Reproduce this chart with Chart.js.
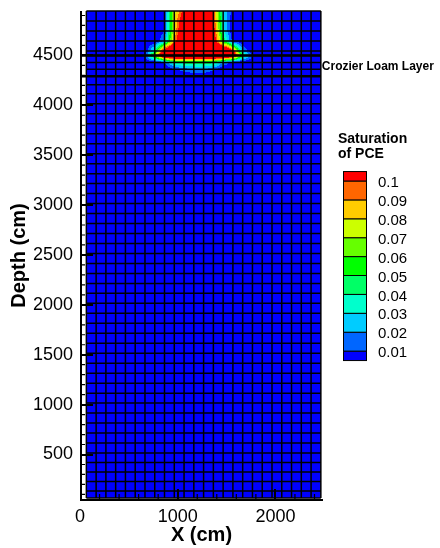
<!DOCTYPE html>
<html>
<head>
<meta charset="utf-8">
<script src="https://cdn.jsdelivr.net/npm/chart.js@4.4.1/dist/chart.umd.min.js"></script>
<style>
  body { margin: 0; background: #fff; }
  #wrap { width: 440px; height: 548px; }
</style>
</head>
<body>
<div id="wrap"><canvas id="sat" width="440" height="548"></canvas></div>
<script>
// mesh lines of the model (cm)
const xNodes = [65, 165, 265, 365, 465, 565, 665, 765, 865, 965, 1065, 1165, 1265,
  1365, 1465, 1565, 1665, 1765, 1865, 1965, 2065, 2165, 2265, 2365, 2465];
const yNodes = [65, 135, 230, 325, 420, 515, 615, 715, 815, 915, 1015, 1115, 1215,
  1315, 1415, 1515, 1615, 1715, 1815, 1915, 2015, 2115, 2215, 2315, 2415, 2515,
  2615, 2715, 2815, 2915, 3015, 3115, 3215, 3315, 3415, 3515, 3615, 3715, 3815,
  3915, 4015, 4115, 4205, 4290, 4360, 4430, 4500, 4545, 4645, 4745, 4845, 4945];

// PCE saturation at the nodes of the source zone (zero everywhere else)
const plumeX = [665, 765, 865, 965, 1065, 1165, 1265, 1365, 1465, 1565, 1665, 1765];
const plumeY = [4945, 4845, 4745, 4645, 4545, 4500, 4430, 4360, 4290];
const plumeSat = [
  [0, 0, 0.01, 0.075, 0.105, 0.15, 0.15, 0.098, 0.03, 0.005, 0, 0],
  [0, 0, 0.01, 0.078, 0.12, 0.15, 0.15, 0.105, 0.032, 0, 0, 0],
  [0, 0, 0.01, 0.08, 0.13, 0.15, 0.15, 0.11, 0.035, 0, 0, 0],
  [0, 0, 0.02, 0.09, 0.14, 0.15, 0.15, 0.12, 0.05, 0.005, 0, 0],
  [0, 0.04, 0.12, 0.15, 0.15, 0.15, 0.15, 0.15, 0.15, 0.105, 0.02, 0],
  [0.01, 0.07, 0.14, 0.15, 0.15, 0.15, 0.15, 0.15, 0.15, 0.13, 0.05, 0.01],
  [0, 0, 0.01, 0.04, 0.045, 0.045, 0.045, 0.045, 0.02, 0.005, 0, 0],
  [0, 0, 0, 0.008, 0.015, 0.02, 0.02, 0.012, 0, 0, 0, 0],
  [0, 0, 0, 0, 0, 0, 0, 0, 0, 0, 0, 0],
];

// Crozier loam layer boundaries (cm)
const loamLayer = [4500, 4290];

// contour levels and band colours (lowest band first)
const satLevels = [0.01, 0.02, 0.03, 0.04, 0.05, 0.06, 0.07, 0.08, 0.09, 0.1];
const levelColors = ["#0000ff", "#0066ff", "#00ccff", "#00ffcc", "#00ff66", "#00ff00",
  "#66ff00", "#ccff00", "#ffcc00", "#ff6600", "#ff0000"];

const xTicks = [0, 1000, 2000];
const yTicks = [500, 1000, 1500, 2000, 2500, 3000, 3500, 4000, 4500];

const nodes = [];
plumeY.forEach((yv, j) => plumeX.forEach((xv, i) => nodes.push({ x: xv, y: yv, v: plumeSat[j][i] })));

const FONT = "Liberation Sans";

function satColor(v) {
  let k = 0;
  while (k < satLevels.length && v >= satLevels[k]) k++;
  return levelColors[k];
}
const clamp01 = (t) => Math.max(0, Math.min(1, t));

const fieldPlugin = {
  id: "field",
  beforeDatasetsDraw(chart) {
    const { ctx, chartArea: area, scales: { x, y } } = chart;
    const sat = new Map();
    chart.data.datasets[0].data.forEach((n) => sat.set(n.x + "," + n.y, n.v));
    const nodeSat = (a, b) => sat.get(a + "," + b) || 0;

    const mL = x.getPixelForValue(xNodes[0]);
    const mR = x.getPixelForValue(xNodes[xNodes.length - 1]);
    const mT = y.getPixelForValue(yNodes[yNodes.length - 1]);
    const mB = y.getPixelForValue(yNodes[0]);

    ctx.save();
    ctx.fillStyle = levelColors[0];
    ctx.fillRect(mL, mT, mR - mL, mB - mT);

    // contour bands inside cells touched by the plume
    for (let i = 0; i < xNodes.length - 1; i++) {
      for (let j = 0; j < yNodes.length - 1; j++) {
        const x0 = xNodes[i], x1 = xNodes[i + 1], y0 = yNodes[j], y1 = yNodes[j + 1];
        const v00 = nodeSat(x0, y0), v10 = nodeSat(x1, y0);
        const v01 = nodeSat(x0, y1), v11 = nodeSat(x1, y1);
        if (!(v00 || v10 || v01 || v11)) continue;
        const L = Math.round(x.getPixelForValue(x0)), R = Math.round(x.getPixelForValue(x1));
        const T = Math.round(y.getPixelForValue(y1)), B = Math.round(y.getPixelForValue(y0));
        for (let py = T; py < B; py++) {
          const ty = clamp01((y.getValueForPixel(py + 0.5) - y0) / (y1 - y0));
          for (let px = L; px < R; px++) {
            const tx = clamp01((x.getValueForPixel(px + 0.5) - x0) / (x1 - x0));
            const v = v00 * (1 - tx) * (1 - ty) + v10 * tx * (1 - ty) + v01 * (1 - tx) * ty + v11 * tx * ty;
            ctx.fillStyle = satColor(v);
            ctx.fillRect(px, py, 1, 1);
          }
        }
      }
    }

    // mesh
    ctx.strokeStyle = "#000";
    ctx.lineWidth = 1.5;
    ctx.beginPath();
    xNodes.forEach((xv) => {
      const p = x.getPixelForValue(xv);
      ctx.moveTo(p, mT);
      ctx.lineTo(p, mB);
    });
    yNodes.forEach((yv) => {
      const p = y.getPixelForValue(yv);
      ctx.moveTo(mL, p);
      ctx.lineTo(mR, p);
    });
    ctx.stroke();

    // loam layer
    ctx.lineWidth = 2.5;
    ctx.beginPath();
    loamLayer.forEach((yv) => {
      const p = y.getPixelForValue(yv);
      ctx.moveTo(area.left, p);
      ctx.lineTo(mR, p);
    });
    ctx.stroke();

    // axes with inward ticks
    ctx.lineWidth = 2;
    ctx.beginPath();
    ctx.moveTo(area.left + 1, area.top);
    ctx.lineTo(area.left + 1, area.bottom);
    ctx.moveTo(area.left, area.bottom);
    ctx.lineTo(area.right, area.bottom);
    ctx.stroke();

    ctx.lineWidth = 1.2;
    ctx.beginPath();
    for (let v = 100; v < y.max; v += 100) {
      if (v % 500 === 0) continue;
      const p = y.getPixelForValue(v);
      ctx.moveTo(area.left, p);
      ctx.lineTo(area.left + 5, p);
    }
    for (let v = 200; v < x.max; v += 200) {
      if (v % 1000 === 0) continue;
      const p = x.getPixelForValue(v);
      ctx.moveTo(p, area.bottom);
      ctx.lineTo(p, area.bottom - 6);
    }
    ctx.stroke();

    ctx.lineWidth = 2;
    ctx.beginPath();
    yTicks.forEach((v) => {
      const p = Math.round(y.getPixelForValue(v));
      ctx.moveTo(area.left, p);
      ctx.lineTo(area.left + 13, p);
    });
    xTicks.forEach((v) => {
      if (v === 0) return;
      const p = Math.round(x.getPixelForValue(v));
      ctx.moveTo(p, area.bottom);
      ctx.lineTo(p, area.bottom - 11);
    });
    ctx.stroke();

    // layer label
    ctx.fillStyle = "#000";
    ctx.font = "bold 12px " + FONT;
    ctx.textAlign = "left";
    ctx.textBaseline = "middle";
    ctx.fillText("Crozier Loam Layer", mR + 1,
      (y.getPixelForValue(loamLayer[0]) + y.getPixelForValue(loamLayer[1])) / 2 + 1);

    // contour legend
    const legX = 343, legW = 23, step = 18.9, top = 181;
    const yb = (m) => top + (satLevels.length - 1 - m) * step;
    ctx.lineWidth = 1;
    levelColors.forEach((c, k) => {
      const t = k === levelColors.length - 1 ? yb(k - 1) - step / 2 : yb(k);
      const b = k === 0 ? yb(0) + step / 2 : yb(k - 1);
      ctx.fillStyle = c;
      ctx.fillRect(legX, t, legW, b - t);
      ctx.strokeRect(legX + 0.5, t, legW, b - t);
    });
    ctx.fillStyle = "#000";
    ctx.font = "15px " + FONT;
    satLevels.forEach((v, m) => ctx.fillText(String(v), 378, yb(m) + 2));
    ctx.font = "bold 14px " + FONT;
    ctx.fillText("Saturation", 338, 139);
    ctx.fillText("of PCE", 338, 154);
    ctx.restore();
  },
};

new Chart(document.getElementById("sat"), {
  type: "scatter",
  data: { datasets: [{ data: nodes, pointRadius: 0, pointHoverRadius: 0 }] },
  options: {
    responsive: false,
    animation: false,
    events: [],
    layout: { padding: { top: 11, right: 117, bottom: 0, left: 0 } },
    plugins: { legend: { display: false }, tooltip: { enabled: false } },
    scales: {
      x: {
        type: "linear",
        min: 0,
        max: 2487,
        grid: { display: false, drawTicks: false },
        border: { display: false },
        afterBuildTicks: (s) => { s.ticks = xTicks.map((v) => ({ value: v })); },
        afterFit: (s) => {
          s.height = 48;
          s.paddingLeft = 0;
          s.paddingRight = 0;
        },
        ticks: {
          color: "#000",
          font: { family: FONT, size: 18 },
          padding: 6,
          maxRotation: 0,
          autoSkip: false,
          callback: (v) => String(v),
        },
        title: {
          display: true,
          text: "X (cm)",
          color: "#000",
          font: { family: FONT, size: 20, weight: "bold" },
          padding: { top: 0, bottom: 1 },
        },
      },
      y: {
        type: "linear",
        min: 44,
        max: 4945,
        grid: { display: false, drawTicks: false },
        border: { display: false },
        afterBuildTicks: (s) => { s.ticks = yTicks.map((v) => ({ value: v })); },
        afterFit: (s) => {
          s.width = 80;
          s.paddingTop = 0;
          s.paddingBottom = 0;
        },
        ticks: {
          color: "#000",
          font: { family: FONT, size: 18 },
          padding: 7,
          autoSkip: false,
          callback: (v) => String(v),
        },
        title: {
          display: true,
          text: "Depth (cm)",
          color: "#000",
          font: { family: FONT, size: 20, weight: "bold" },
          padding: { top: 7, bottom: 0 },
        },
      },
    },
  },
  plugins: [fieldPlugin],
});
</script>
</body>
</html>
